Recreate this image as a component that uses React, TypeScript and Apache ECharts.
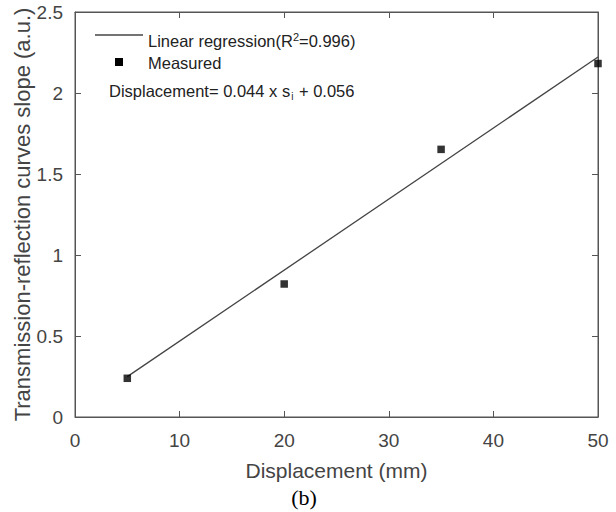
import React, { useEffect, useRef } from "react";
import * as echarts from "echarts";

const measuredX = [5, 20, 35, 50];
const measuredY = [0.239, 0.821, 1.652, 2.182];
const fitX = [5, 50];
const fitY = [0.249, 2.222];
const xTicks = [0, 10, 20, 30, 40, 50];
const yTicks = [0, 0.5, 1, 1.5, 2, 2.5];

const FONT = "Liberation Sans, Arial, sans-serif";

export default function App() {
  const ref = useRef<HTMLDivElement>(null);
  useEffect(() => {
    if (!ref.current) return;
    const chart = echarts.init(ref.current, null, { renderer: "svg" });
    const axisLine = { show: true, onZero: false, lineStyle: { color: "#555", width: 1 } };
    const tick = { show: true, inside: true, length: 6, lineStyle: { color: "#555" } };
    const label = { color: "#444", fontSize: 19, fontFamily: FONT };
    chart.setOption({
      animation: false,
      backgroundColor: "#fff",
      grid: {
        left: 75,
        right: 18,
        top: 12,
        bottom: 95,
        containLabel: false,
        show: true,
        borderColor: "#555",
        borderWidth: 1,
        backgroundColor: "transparent",
      },
      xAxis: [
        {
          type: "value",
          min: xTicks[0],
          max: xTicks[xTicks.length - 1],
          interval: 10,
          position: "bottom",
          axisLine,
          axisTick: tick,
          splitLine: { show: false },
          axisLabel: { ...label, margin: 14 },
          name: "Displacement (mm)",
          nameLocation: "middle",
          nameGap: 43,
          nameMoveOverlap: false,
          nameTextStyle: { color: "#444", fontSize: 21, fontFamily: FONT },
        },
        {
          type: "value",
          min: xTicks[0],
          max: xTicks[xTicks.length - 1],
          interval: 10,
          position: "top",
          axisLine,
          axisTick: tick,
          splitLine: { show: false },
          axisLabel: { show: false },
        },
      ],
      yAxis: [
        {
          type: "value",
          min: yTicks[0],
          max: yTicks[yTicks.length - 1],
          interval: 0.5,
          position: "left",
          axisLine,
          axisTick: tick,
          splitLine: { show: false },
          axisLabel: { ...label, margin: 12 },
          name: "Transmission-reflection curves slope (a.u.)",
          nameLocation: "middle",
          nameGap: 42,
          nameMoveOverlap: false,
          nameTextStyle: { color: "#444", fontSize: 22, fontFamily: FONT },
        },
        {
          type: "value",
          min: yTicks[0],
          max: yTicks[yTicks.length - 1],
          interval: 0.5,
          position: "right",
          axisLine,
          axisTick: tick,
          splitLine: { show: false },
          axisLabel: { show: false },
        },
      ],
      series: [
        {
          name: "Linear regression",
          type: "line",
          data: fitX.map((x, i) => [x, fitY[i]]),
          showSymbol: false,
          symbol: "none",
          lineStyle: { color: "#444", width: 1.3 },
          z: 2,
        },
        {
          name: "Measured",
          type: "scatter",
          data: measuredX.map((x, i) => [x, measuredY[i]]),
          symbol: "rect",
          symbolSize: 7.5,
          itemStyle: { color: "#000" },
          z: 3,
        },
        {
          name: "frame",
          type: "scatter",
          xAxisIndex: 1,
          yAxisIndex: 1,
          data: [],
          silent: true,
        },
      ],
      graphic: [
        {
          type: "line",
          shape: { x1: 95, y1: 35, x2: 143, y2: 35 },
          style: { stroke: "#444", lineWidth: 1.3 },
        },
        {
          type: "text",
          x: 148,
          y: 41,
          style: {
            text: "{n|Linear regression(R}{s|2}{n|=0.996)}",
            verticalAlign: "middle",
            rich: {
              n: { fontSize: 16.5, fill: "#222", fontFamily: FONT },
              s: { fontSize: 11, fill: "#222", fontFamily: FONT, padding: [0, 0, 9, 0] },
            },
          },
        },
        {
          type: "rect",
          shape: { x: 115, y: 58, width: 8, height: 8 },
          style: { fill: "#000" },
        },
        {
          type: "text",
          x: 148,
          y: 62.5,
          style: {
            text: "Measured",
            fontSize: 16.5,
            fontFamily: FONT,
            fill: "#222",
            verticalAlign: "middle",
          },
        },
        {
          type: "text",
          x: 109,
          y: 91,
          style: {
            text: "{n|Displacement= 0.044 x s}{b|i}{n| + 0.056}",
            verticalAlign: "middle",
            rich: {
              n: { fontSize: 16.5, fill: "#222", fontFamily: FONT },
              b: { fontSize: 10, fill: "#222", fontFamily: FONT, padding: [10, 1, 0, 1] },
            },
          },
        },
        {
          type: "text",
          x: 304,
          y: 497,
          style: {
            text: "(b)",
            fontSize: 22,
            fontFamily: "Liberation Serif, Times New Roman, serif",
            fill: "#000",
            align: "center",
            verticalAlign: "middle",
          },
        },
      ],
    });
    return () => chart.dispose();
  }, []);
  return (
    <div
      ref={ref}
      style={{ position: "fixed", left: 0, top: 0, width: 616, height: 512, background: "#fff" }}
    />
  );
}
